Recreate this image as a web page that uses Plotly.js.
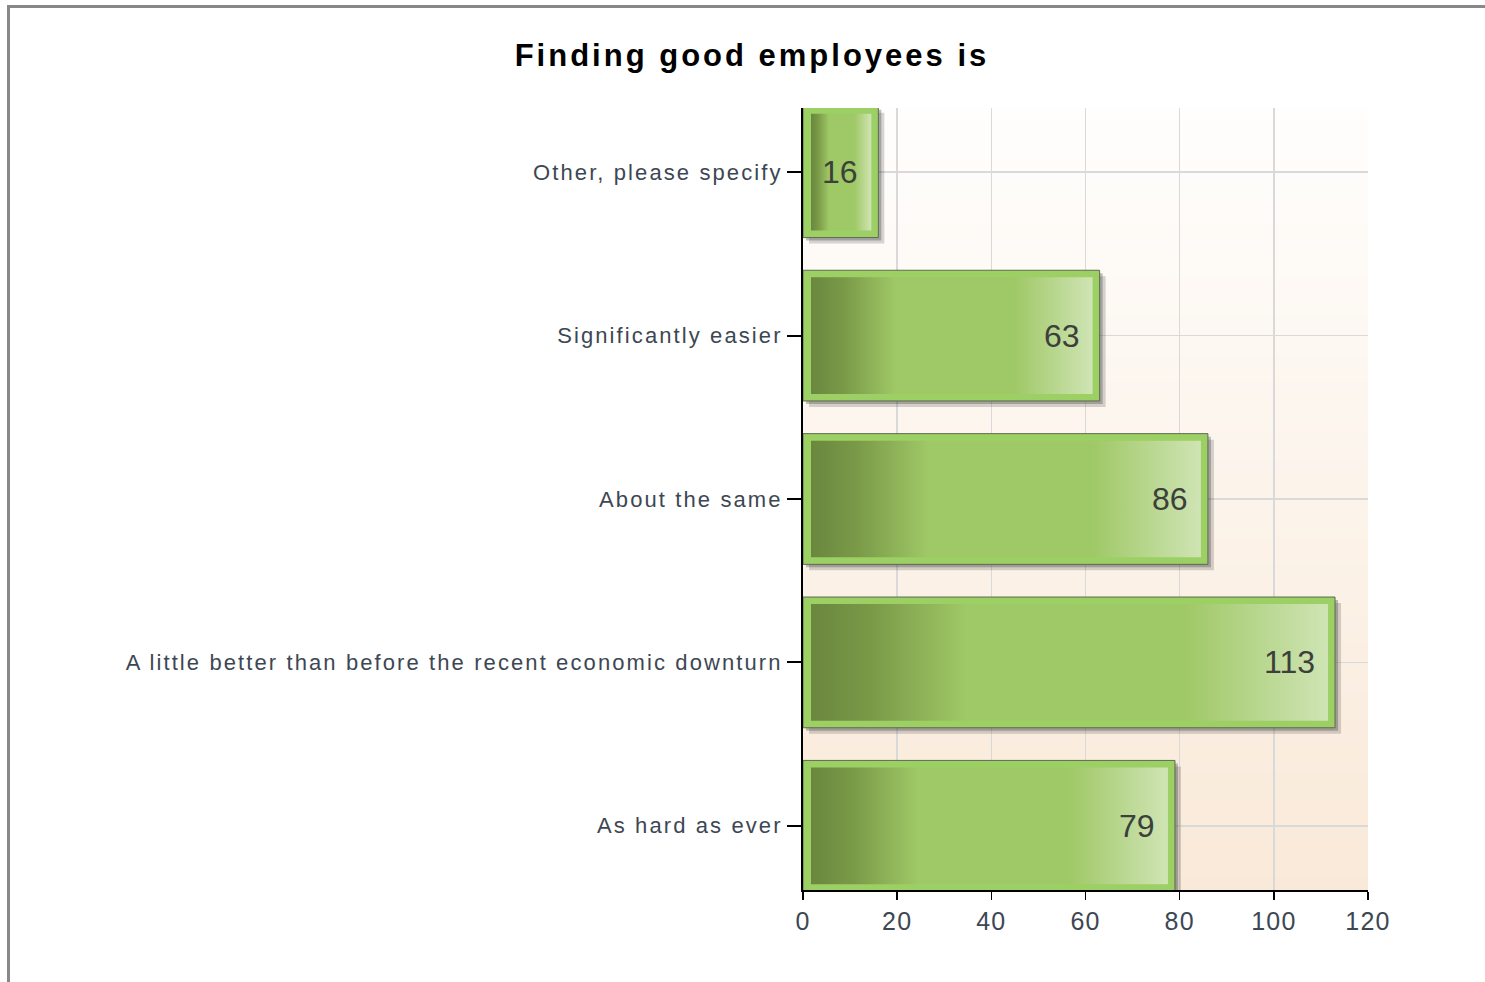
<!DOCTYPE html>
<html>
<head>
<meta charset="utf-8">
<script src="https://cdn.plot.ly/plotly-3.0.1.min.js"></script>
<style>
  html, body { margin: 0; padding: 0; background: #ffffff; }
  #wrap { position: relative; width: 1485px; height: 982px; overflow: hidden; }
  #chart { position: absolute; left: 0; top: 0; width: 1485px; height: 982px; }
  #frame { position: absolute; left: 7px; top: 5px; right: -10px; bottom: -10px;
           border-left: 3px solid #888888; border-top: 3px solid #888888; pointer-events: none; }
  #chart .ytick text { letter-spacing: 2.1px; }
  #chart .xtick text { letter-spacing: 1.2px; }
  #chart .gtitle { letter-spacing: 3px; }
</style>
</head>
<body>
<div id="wrap">
  <div id="chart"></div>
  <div id="frame"></div>
</div>
<script>
// ---- data ----
const chartTitle = "Finding good employees is";
const categories = [
  "Other, please specify",
  "Significantly easier",
  "About the same",
  "A little better than before the recent economic downturn",
  "As hard as ever"
];
const values = [16, 63, 86, 113, 79];
const xTickVals = [0, 20, 40, 60, 80, 100, 120];

// ---- layout geometry ----
const W = 1485, H = 982;
const margin = { l: 803, r: 117, t: 108, b: 92, pad: 0 };
const xRange = [0, 120];
const yPad = 0.393;
const n = categories.length;
const yRange = [-yPad, n - 1 + yPad];
const plotW = W - margin.l - margin.r;
const plotH = H - margin.t - margin.b;
const pxX = (xRange[1] - xRange[0]) / plotW;   // data units per px (x)
const pxY = (yRange[1] - yRange[0]) / plotH;   // data units per px (y)
const halfBar = 0.4;

function rect(x0, x1, y0, y1) {
  return { x: [x0, x1, x1, x0, x0], y: [y0, y0, y1, y1, y0] };
}

const traces = [];
const annotations = [];
values.forEach((v, i) => {
  const yc = n - 1 - i;
  const y0 = yc - halfBar, y1 = yc + halfBar;
  // soft drop shadow
  [[6, 'rgba(50,50,50,0.2)'], [3, 'rgba(50,50,50,0.3)']].forEach(([off, col]) => {
    const r = rect(0 + off * pxX, v + off * pxX, y0 - off * pxY, y1 - off * pxY);
    traces.push(Object.assign(r, {
      type: 'scatter', mode: 'lines', fill: 'toself', fillcolor: col,
      line: { width: 0 }, hoverinfo: 'skip', showlegend: false
    }));
  });
  // outer frame
  const o = rect(0, v, y0, y1);
  traces.push(Object.assign(o, {
    type: 'scatter', mode: 'lines', fill: 'toself', fillcolor: '#9ccf64',
    line: { width: 1, color: '#5d6b50' }, hoverinfo: 'skip', showlegend: false
  }));
  // inner gradient
  const ins = 7;
  const r2 = rect(ins * pxX + 1 * pxX, v - ins * pxX, y0 + ins * pxY, y1 - ins * pxY);
  traces.push(Object.assign(r2, {
    type: 'scatter', mode: 'lines', fill: 'toself',
    fillgradient: {
      type: 'horizontal',
      colorscale: [[0, '#6a873e'], [0.12, '#7a9a48'], [0.3, '#9fc866'], [0.72, '#9fc866'], [1, '#cfe4b4']]
    },
    line: { width: 0 }, hoverinfo: 'skip', showlegend: false
  }));
  annotations.push({
    x: v, y: yc, xref: 'x', yref: 'y', text: String(v), showarrow: false,
    xanchor: 'right', yanchor: 'middle', xshift: -18,
    font: { family: 'Liberation Sans, Arial, sans-serif', size: 32, color: '#3c403a' }
  });
});

// background vertical gradient (style only)
const shapes = [];
const strips = 60;
const bgTop = [255, 254, 253], bgBot = [249, 233, 216];
for (let k = 0; k < strips; k++) {
  const t = (k + 0.5) / strips;
  const c = bgTop.map((a, j) => Math.round(a + (bgBot[j] - a) * t));
  shapes.push({
    type: 'rect', xref: 'paper', yref: 'paper', layer: 'below',
    x0: 0, x1: 1, y1: 1 - k / strips, y0: Math.max(0, 1 - (k + 1) / strips - 0.002),
    fillcolor: `rgb(${c[0]},${c[1]},${c[2]})`, line: { width: 0 }
  });
}

const layout = {
  width: W, height: H,
  margin: margin,
  paper_bgcolor: '#ffffff',
  plot_bgcolor: '#ffffff',
  showlegend: false,
  title: {
    text: chartTitle,
    x: 752 / W, xanchor: 'center', xref: 'container',
    y: 1 - 55 / H, yanchor: 'middle', yref: 'container',
    font: { family: 'Liberation Sans, Arial, sans-serif', size: 31, color: '#000000', weight: 'bold' }
  },
  xaxis: {
    range: xRange, tickvals: xTickVals, ticktext: xTickVals.map(String),
    showgrid: true, gridcolor: '#d9d9d9', gridwidth: 1.5, zeroline: false,
    showline: true, linecolor: '#000000', linewidth: 2,
    ticks: 'outside', ticklen: 8, tickwidth: 1.5, tickcolor: '#000000',
    tickfont: { family: 'Liberation Sans, Arial, sans-serif', size: 25, color: '#3d4753' },
    fixedrange: true
  },
  yaxis: {
    range: yRange, tickvals: categories.map((c, i) => n - 1 - i), ticktext: categories,
    showgrid: true, gridcolor: '#d9d9d9', gridwidth: 1.5, zeroline: false,
    showline: true, linecolor: '#000000', linewidth: 2,
    ticks: 'outside', ticklen: 14, tickwidth: 2, tickcolor: '#000000',
    tickfont: { family: 'Liberation Sans, Arial, sans-serif', size: 22, color: '#3d4753' },
    fixedrange: true
  },
  shapes: shapes,
  annotations: annotations
};

Plotly.newPlot('chart', traces, layout, { displayModeBar: false, staticPlot: true });
</script>
</body>
</html>
